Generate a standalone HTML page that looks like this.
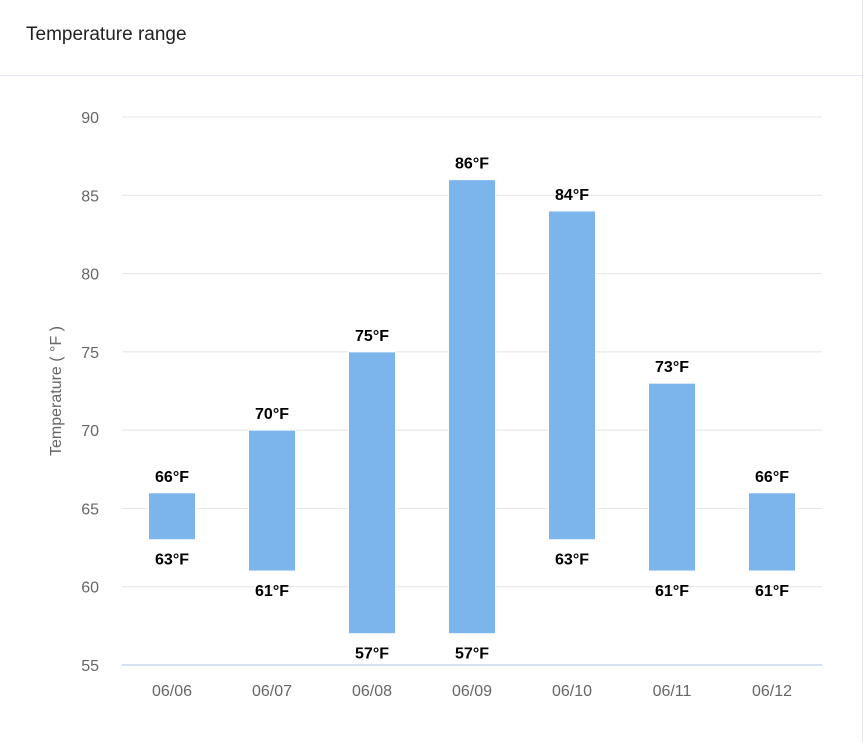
<!DOCTYPE html>
<html><head><meta charset="utf-8"><style>
html,body{margin:0;padding:0;background:#fff;}
body{width:864px;height:742px;overflow:hidden;position:relative;font-family:"Liberation Sans","DejaVu Sans",sans-serif;}
#title{position:absolute;left:26px;top:24px;font-size:19px;color:#222;}
#hdr{position:absolute;left:0;top:75px;width:862px;height:1px;background:#e3e8f2;}
#rb{position:absolute;left:862px;top:0;width:1px;height:742px;background:#e6e6e6;}
svg{position:absolute;left:0;top:0;}
</style></head><body>
<div id="title">Temperature range</div>
<div id="hdr"></div>
<div id="rb"></div>
<svg id="chart" width="864" height="742"></svg>
<script>
const categories=["06/06","06/07","06/08","06/09","06/10","06/11","06/12"];
const lowValues=[63,61,57,57,63,61,61];
const highValues=[66,70,75,86,84,73,66];
const yTicks=[55,60,65,70,75,80,85,90];
const NS="http://www.w3.org/2000/svg";
const svg=document.getElementById('chart');
const L=122,R=822,T=117,B=665,yMin=55,yMax=90;
const y=v=>B-(v-yMin)/(yMax-yMin)*(B-T);
const band=(R-L)/categories.length;
const x=i=>L+band*(i+0.5);
function mk(t,a,txt){const e=document.createElementNS(NS,t);for(const k in a)e.setAttribute(k,a[k]);if(txt!==undefined)e.textContent=txt;svg.appendChild(e);return e;}
yTicks.forEach(v=>{
 const g=mk('line',{x1:L,x2:R,y1:y(v),y2:y(v),stroke:v===yMin?'#c8d8ef':'#e4e4e4','stroke-width':v===yMin?1.5:1});
 
 
 const t=mk('text',{x:99,y:y(v)+6,'text-anchor':'end','font-size':16,fill:'#666'},v);
 
 
});
const yt=mk('text',{x:0,y:0,transform:'translate(61,391) rotate(-90)','text-anchor':'middle','font-size':16,fill:'#666'},'Temperature ( °F )');


categories.forEach((c,i)=>{
 const cx=x(i),w=47;
 const r=mk('rect',{x:cx-w/2,y:y(highValues[i]),width:w,height:y(lowValues[i])-y(highValues[i]),fill:'#7cb4ec',stroke:'#fff','stroke-width':1});
 
 
 const h=mk('text',{x:cx,y:y(highValues[i])-11,'text-anchor':'middle','font-size':16,'font-weight':'bold',fill:'#000'},highValues[i]+'°F');
 
 
 const lo=mk('text',{x:cx,y:y(lowValues[i])+25,'text-anchor':'middle','font-size':16,'font-weight':'bold',fill:'#000'},lowValues[i]+'°F');
 
 
 const xl=mk('text',{x:cx,y:696,'text-anchor':'middle','font-size':16,fill:'#666'},c);
 
 
});
</script>
</body></html>
